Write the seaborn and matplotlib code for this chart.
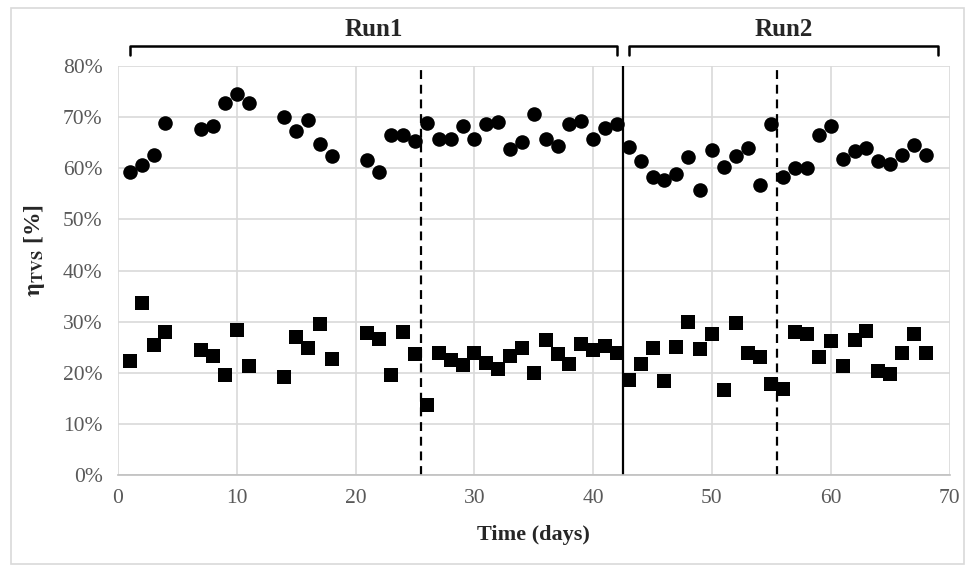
import matplotlib
matplotlib.use("Agg")
import matplotlib.pyplot as plt
import seaborn as sns
import pandas as pd
from matplotlib.patches import Rectangle
from matplotlib.ticker import PercentFormatter

# days with measurements
days = [1, 2, 3, 4, 7, 8, 9, 10, 11, 14, 15, 16, 17, 18,
        21, 22, 23, 24, 25, 26, 27, 28, 29, 30, 31, 32, 33, 34, 35, 36, 37, 38,
        39, 40, 41, 42, 43, 44, 45, 46, 47, 48, 49, 50, 51, 52, 53, 54, 55, 56,
        57, 58, 59, 60, 61, 62, 63, 64, 65, 66, 67, 68]

# upper series (circles), %
eta_circle = [59.3, 60.6, 62.6, 68.8, 67.6, 68.3, 72.8, 74.5, 72.8, 70.1, 67.3, 69.4, 64.7, 62.4,
              61.7, 59.3, 66.5, 66.5, 65.3, 68.9, 65.7, 65.7, 68.3, 65.8, 68.6, 69.1, 63.8, 65.1,
              70.6, 65.7, 64.4, 68.6, 69.2, 65.7, 67.8, 68.6, 64.2, 61.4, 58.2, 57.8, 58.8, 62.2,
              55.7, 63.6, 60.2, 62.4, 63.9, 56.7, 68.6, 58.3, 60.0, 60.0, 66.5, 68.3, 61.9, 63.3,
              63.9, 61.5, 60.8, 62.6, 64.5, 62.6]

# lower series (squares), %
eta_square = [22.3, 33.7, 25.4, 27.9, 24.5, 23.3, 19.6, 28.4, 21.3, 19.1, 27.1, 24.9, 29.5, 22.7,
              27.7, 26.6, 19.6, 28.0, 23.7, 13.7, 23.8, 22.5, 21.5, 23.8, 22.0, 20.7, 23.3, 24.8,
              20.0, 26.5, 23.7, 21.8, 25.6, 24.5, 25.3, 23.9, 18.6, 21.7, 24.8, 18.4, 25.0, 29.9,
              24.6, 27.5, 16.6, 29.8, 23.8, 23.1, 17.9, 16.8, 27.9, 27.6, 23.1, 26.3, 21.3, 26.5,
              28.2, 20.4, 19.7, 23.9, 27.5, 23.9]

dashed_lines = [25.5, 55.5]
solid_lines = [42.5]
run_labels = ["Run1", "Run2"]
run_starts = [1, 43]
run_ends = [42, 69]

sns.set_style("white")
plt.rcParams['font.family'] = ['Liberation Serif', 'DejaVu Serif']
plt.rcParams['mathtext.fontset'] = 'stix'

fig = plt.figure(figsize=(9.67, 5.69), dpi=100)
ax = fig.add_axes([0.122, 0.165, 0.860, 0.719])

# light frame around the whole chart
fig.patches.append(Rectangle((0.011, 0.008), 0.986, 0.978, transform=fig.transFigure,
                             fill=False, edgecolor="#d9d9d9", linewidth=1.2))

df = pd.DataFrame({"day": days, "circle": eta_circle, "square": eta_square})
sns.scatterplot(data=df, x="day", y="circle", marker="o", s=110, color="black",
                edgecolor="black", linewidth=0, ax=ax, zorder=3)
sns.scatterplot(data=df, x="day", y="square", marker="s", s=92, color="black",
                edgecolor="black", linewidth=0, ax=ax, zorder=3)

for xv in dashed_lines:
    ax.axvline(xv, color="black", linestyle=(0, (4, 2.6)), linewidth=1.6, zorder=2)
for xv in solid_lines:
    ax.axvline(xv, color="black", linestyle="-", linewidth=1.6, zorder=2)

ax.set_xlim(0, 70)
ax.set_ylim(0, 80)
ax.set_xticks(range(0, 71, 10))
ax.set_yticks(range(0, 81, 10))
ax.yaxis.set_major_formatter(PercentFormatter(decimals=0))
ax.grid(True, color="#d9d9d9", linewidth=1.2)
ax.set_axisbelow(True)
for side in ["top", "right", "left"]:
    ax.spines[side].set_visible(False)
ax.spines["bottom"].set_color("#bfbfbf")
ax.spines["bottom"].set_linewidth(1.2)
ax.tick_params(axis="both", length=0, labelsize=15.5, labelcolor="#595959")
ax.tick_params(axis="x", pad=10)
ax.tick_params(axis="y", pad=11)

ax.set_xlabel("Time (days)", fontsize=16, fontweight="bold", labelpad=12)
ax.set_ylabel(r"$\mathbf{\eta}_{\mathbf{TVS}}$ [%]", fontsize=17, fontweight="bold")
ax.yaxis.set_label_coords(-0.085, 0.55)

# run brackets above the plot
trans = ax.get_xaxis_transform()
for lab, x0, x1 in zip(run_labels, run_starts, run_ends):
    ax.plot([x0, x0, x1, x1], [1.027, 1.049, 1.049, 1.027], color="black",
            linewidth=1.8, transform=trans, clip_on=False)
    ax.text((x0 + x1) / 2, 1.09, lab, transform=trans, ha="center", va="center",
            fontsize=18, fontweight="bold")

fig.savefig("out.png", dpi=100)
